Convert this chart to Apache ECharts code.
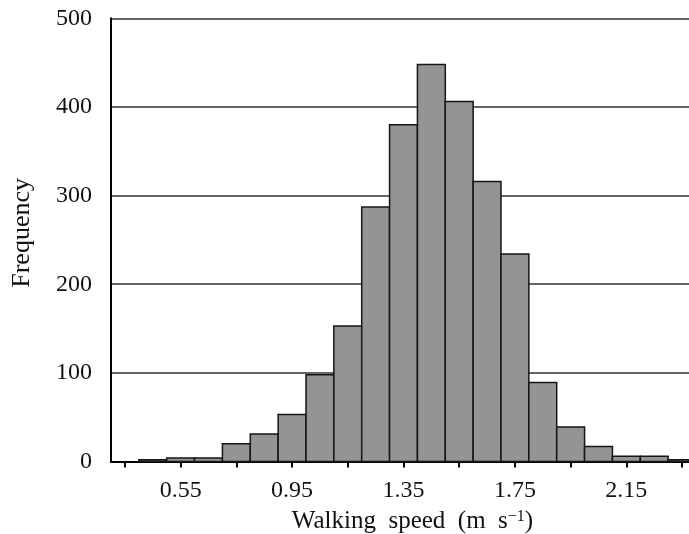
<!DOCTYPE html>
<html>
<head>
<meta charset="utf-8">
<script src="https://cdn.jsdelivr.net/npm/echarts@6/dist/echarts.min.js"></script>
<style>html,body{margin:0;padding:0;background:#fff}#c{width:689px;height:534px}</style>
</head>
<body>
<div id="c"></div>
<script>
const binCenters = [0.45,0.55,0.65,0.75,0.85,0.95,1.05,1.15,1.25,1.35,1.45,1.55,1.65,1.75,1.85,1.95,2.05,2.15,2.25,2.35];
const frequency  = [2,4,4,20,31,53,98,153,287,380,448,406,316,234,89,39,17,6,6,2];
const binWidth = 0.1;
const xTickValues = [0.35,0.55,0.75,0.95,1.15,1.35,1.55,1.75,1.95,2.15,2.35];
const xLabelValues = [0.55,0.95,1.35,1.75,2.15];
const yTicks = [0,100,200,300,400,500];

const chart = echarts.init(document.getElementById('c'), null, {renderer:'canvas'});
const font = 'Liberation Serif';
chart.setOption({
  animation:false,
  grid:{left:111, right:-7, top:18.3, bottom:72.5, containLabel:false, outerBoundsMode:'none'},
  xAxis:{
    type:'value', min:0.3, max:2.4,
    axisLine:{show:true, lineStyle:{color:'#000', width:2}},
    axisTick:{show:true, customValues:xTickValues, length:6, lineStyle:{color:'#000', width:2}},
    axisLabel:{customValues:xLabelValues, margin:17, fontFamily:font, fontSize:24, color:'#111',
      formatter:v=>v.toFixed(2)},
    splitLine:{show:false},
    name:'Walking  speed  (m  s{sup|\u22121})',
    nameLocation:'middle', nameGap:47,
    nameTextStyle:{fontFamily:font, fontSize:25, color:'#111', padding:[0,0,0,18],
      rich:{sup:{fontFamily:font, fontSize:16, color:'#111', verticalAlign:'top', padding:[0,0,10,0]}}}
  },
  yAxis:{
    type:'value', min:0, max:500, interval:100,
    axisLine:{show:true, lineStyle:{color:'#000', width:2}},
    axisTick:{show:false},
    axisLabel:{margin:19, fontFamily:font, fontSize:24, color:'#111'},
    splitLine:{show:true, lineStyle:{color:'#333', width:1.5}},
    name:'Frequency', nameLocation:'middle', nameGap:76, nameRotate:90,
    nameTextStyle:{fontFamily:font, fontSize:26, color:'#111', padding:[0,0,0,14]}
  },
  series:[{
    type:'custom',
    data: binCenters.map((x,i)=>[x, frequency[i]]),
    renderItem:function(params, api){
      const x = api.value(0), y = api.value(1);
      const p0 = api.coord([x-binWidth/2, 0]);
      const p1 = api.coord([x+binWidth/2, y]);
      return {type:'rect', shape:{x:p0[0], y:p1[1], width:p1[0]-p0[0], height:p0[1]-p1[1]},
        style:{fill:'#949494', stroke:'#151515', lineWidth:1.5}};
    }
  }]
});
</script>
</body>
</html>
